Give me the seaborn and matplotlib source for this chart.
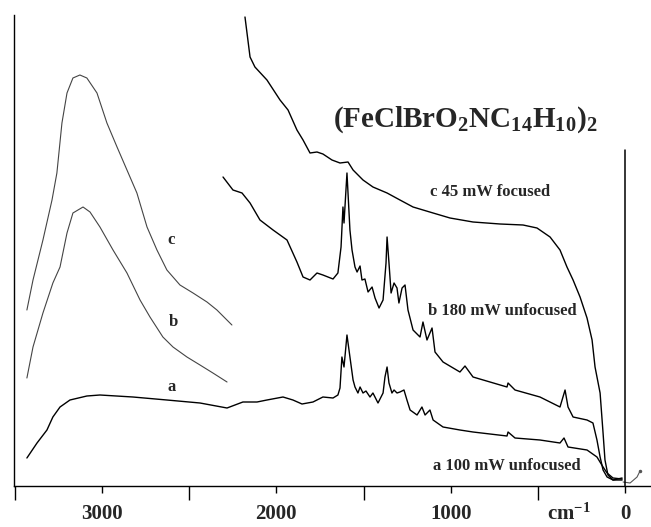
import matplotlib
matplotlib.use("Agg")
import matplotlib.pyplot as plt
import seaborn as sns
import numpy as np

# ---- data (wavenumber cm-1, intensity arbitrary units) ----
c_x = [2180, 2151, 2123, 2054, 1979, 1933, 1882, 1847, 1807, 1767, 1733, 1681, 1635, 1589,
       1560, 1503, 1446, 1365, 1291, 1216, 1101, 1004, 872, 717, 585, 505, 430, 373, 333,
       298, 258, 218, 189, 172, 143, 126, 115, 98, 69, 17]
c_y = [470, 430, 420, 407, 387, 377, 357, 347, 334, 335, 333, 327, 324, 325,
       317, 307, 300, 294, 287, 280, 274, 269, 265, 263, 262, 259, 250, 237, 220,
       207, 190, 169, 147, 120, 94, 54, 27, 12, 7, 7]

b_x = [2306, 2249, 2197, 2151, 2094, 2019, 1939, 1882, 1847, 1807, 1767, 1733, 1675, 1647,
       1629, 1618, 1612, 1595, 1578, 1566, 1549, 1537, 1520, 1509, 1492, 1474, 1451, 1434,
       1411, 1388, 1371, 1365, 1354, 1342, 1325, 1308, 1297, 1279, 1262, 1245, 1216, 1176,
       1159, 1136, 1107, 1090, 1044, 947, 918, 872, 677, 671, 631, 488, 373, 344, 327, 298,
       218, 184, 161, 143, 126, 103, 69, 17]
b_y = [310, 297, 294, 284, 267, 257, 247, 225, 210, 207, 214, 212, 208, 214,
       240, 280, 264, 314, 257, 237, 220, 215, 221, 207, 208, 195, 200, 189,
       179, 187, 224, 250, 224, 194, 204, 199, 184, 199, 202, 177, 157, 150,
       165, 147, 159, 135, 125, 115, 121, 110, 100, 104, 97, 90, 80, 97, 80, 70,
       67, 64, 47, 30, 17, 10, 7, 9]

a_x = [3431, 3373, 3316, 3282, 3241, 3184, 3087, 3012, 2823, 2628, 2438, 2283, 2192, 2111,
       2054, 1962, 1905, 1853, 1790, 1733, 1675, 1647, 1635, 1624, 1612, 1595, 1578, 1560,
       1549, 1532, 1520, 1503, 1486, 1463, 1446, 1417, 1388, 1377, 1365, 1354, 1337, 1325,
       1308, 1291, 1268, 1251, 1233, 1193, 1165, 1147, 1119, 1101, 1044, 947, 872, 677,
       671, 631, 488, 373, 350, 327, 218, 161, 126, 103, 69, 17]
a_y = [29, 44, 57, 70, 80, 87, 91, 92, 90, 87, 84, 79, 85, 85,
       87, 90, 87, 83, 85, 90, 89, 92, 99, 130, 120, 152, 130, 107,
       100, 94, 100, 94, 96, 90, 94, 84, 94, 110, 120, 104, 94, 97,
       94, 95, 97, 87, 77, 72, 80, 72, 77, 67, 60, 57, 55, 51,
       55, 49, 47, 44, 49, 40, 37, 30, 20, 14, 9, 8]

c_hi_x = [3431, 3396, 3339, 3287, 3259, 3230, 3201, 3167, 3127, 3087, 3029, 2972, 2914,
          2857, 2800, 2742, 2685, 2628, 2553, 2478, 2398, 2341, 2255]
c_hi_y = [177, 207, 247, 287, 314, 364, 394, 409, 412, 409, 394, 364, 340,
          317, 294, 260, 237, 217, 202, 194, 185, 177, 162]

b_hi_x = [3431, 3396, 3339, 3282, 3241, 3201, 3167, 3109, 3069, 3012, 2937, 2857, 2782,
          2725, 2651, 2593, 2513, 2438, 2364, 2283]
b_hi_y = [109, 140, 174, 204, 220, 254, 274, 280, 275, 260, 237, 214, 187,
          170, 150, 140, 130, 122, 114, 105]

tail_x = [11, -29, -69, -86]
tail_y = [5, 4, 10, 16]

rayleigh_x = [0, 0]
rayleigh_y = [-4, 337]

major_ticks = [3000, 2000, 1000, 0]
major_labels = ["3000", "2000", "1000", "0"]
minor_ticks = [3500, 2500, 1500, 500]

title_text = r"$\mathbf{(FeClBrO_{2}NC_{14}H_{10})_{2}}$"
labels = [("c 45 mW focused", 1119, 295),
          ("b 180 mW unfocused", 1130, 176),
          ("a 100 mW unfocused", 1101, 21)]
inset_labels = [("c", 2605, 247), ("b", 2593, 165), ("a", 2599, 100)]

# ---- style ----
sns.set_theme(style="white")
plt.rcParams["font.family"] = ["Liberation Serif", "DejaVu Serif"]
plt.rcParams["font.weight"] = "bold"
plt.rcParams["mathtext.fontset"] = "custom"
plt.rcParams["mathtext.rm"] = "Liberation Serif:bold"
plt.rcParams["mathtext.bf"] = "Liberation Serif:bold"
plt.rcParams["mathtext.it"] = "Liberation Serif:bold"

fig = plt.figure(figsize=(6.51, 5.27), dpi=100)
ax = fig.add_axes([14 / 651, 41 / 527, 1 - 14 / 651, 471 / 527])

kw = dict(ax=ax, sort=False, estimator=None, color="black", linewidth=1.0)
sns.lineplot(x=c_x, y=c_y, **kw)
sns.lineplot(x=b_x, y=b_y, **kw)
sns.lineplot(x=a_x, y=a_y, **kw)
kw2 = dict(ax=ax, sort=False, estimator=None, color="#444444", linewidth=0.8)
sns.lineplot(x=c_hi_x, y=c_hi_y, **kw2)
sns.lineplot(x=b_hi_x, y=b_hi_y, **kw2)
sns.lineplot(x=tail_x, y=tail_y, ax=ax, sort=False, estimator=None, color="#555555", linewidth=0.8)
ax.plot(tail_x[-1:], tail_y[-1:], marker=".", color="#555555", markersize=3)
sns.lineplot(x=rayleigh_x, y=rayleigh_y, ax=ax, sort=False, estimator=None, color="black", linewidth=1.1)

ax.set_xlim(3505, -149)
ax.set_ylim(1, 472)

for s in ["top", "right"]:
    ax.spines[s].set_visible(False)
for s in ["left", "bottom"]:
    ax.spines[s].set_color("black")
    ax.spines[s].set_linewidth(1.0)

ax.set_yticks([])
ax.set_xticks(major_ticks)
ax.set_xticklabels(major_labels, fontsize=15, fontweight="bold")
ax.set_xticks(minor_ticks, minor=True)
ax.tick_params(axis="x", which="major", direction="out", length=5, width=1.0,
               color="black", pad=8, bottom=True)
ax.tick_params(axis="x", which="minor", direction="out", length=10, width=1.0,
               color="black", bottom=True)
ax.grid(False)

ax.annotate(r"cm$^{-1}$", xy=(321, 0), xycoords=("data", "axes fraction"),
            xytext=(0, -12.5), textcoords="offset points", ha="center", va="top",
            fontsize=15, fontweight="bold")

ax.text(1675, 360, title_text, fontsize=21, ha="left", va="baseline")
for t, x, y in labels:
    ax.text(x, y, t, fontsize=12, fontweight="bold", ha="left", va="center")
for t, x, y in inset_labels:
    ax.text(x, y, t, fontsize=12, fontweight="bold", ha="center", va="center")

fig.savefig("out.png", dpi=100, facecolor="white")
